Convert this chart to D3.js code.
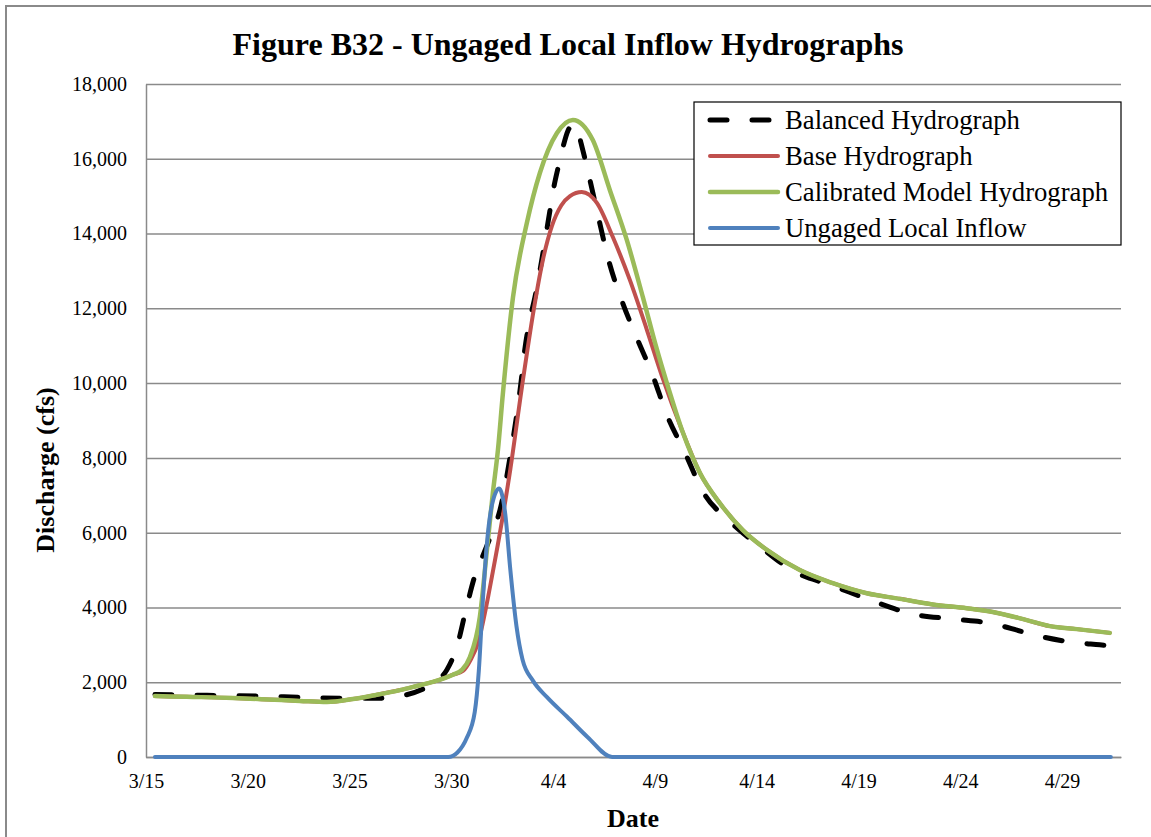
<!DOCTYPE html>
<meta charset="utf-8">
<script src="https://d3js.org/d3.v7.min.js"></script>
<style>
  body { margin: 0; background: #fff; }
  text { font-family: "Liberation Serif", "Times New Roman", serif; }
</style>
<div id="chart"></div>
<script>

// days after 3/15, discharge in cfs
var balanced = [[0.44,1670],[3,1650],[5.5,1630],[8,1590],[10,1570],[11.5,1570],[12.5,1630],[13.5,1790],
  [14.1,1980],[14.78,2330],[15.3,3000],[15.7,3900],[16.16,4850],[16.6,5450],[17.0,6000],[17.39,6600],
  [17.88,8000],[18.42,10000],[18.61,10900],[18.86,11700],[19.11,12300],[19.35,13000],[19.6,13800],
  [19.84,14600],[20.04,15250],[20.24,15750],[20.48,16300],[20.73,16750],[21.02,16920],[21.17,16800],
  [21.46,16230],[21.81,15430],[22.2,14500],[22.74,13260],[23.38,12200],[24.12,11200],[24.9,10200],
  [25.59,9150],[26.47,8150],[27.36,7100],[28.68,6300],[30.16,5630],[31.88,4950],[33.74,4580],
  [35.66,4180],[37.62,3830],[39.64,3690],[41.45,3580],[43.07,3350],[44.06,3210],[45.53,3070],
  [46.86,3000],[47.8,2950]];

var base = [[0.44,1630],[2,1610],[4.27,1580],[6,1540],[7.56,1500],[8.89,1470],[10.17,1550],[11.3,1660],
  [12.48,1790],[13.3,1900],[14.1,2010],[15.08,2200],[15.57,2300],[15.95,2600],[16.31,3050],[16.75,4120],
  [16.99,4810],[17.39,6000],[17.9,7700],[18.47,9900],[19.06,12000],[19.5,13300],[19.94,14200],
  [20.4,14750],[20.83,15000],[21.41,15110],[22.15,14820],[22.94,13900],[23.77,12760],[24.61,11420],
  [25.34,10200],[26.38,8670],[27.21,7600],[28.19,6790],[29.32,6070],[30.5,5540],[32.12,5000],[33.74,4650],
  [35.41,4380],[37.03,4230],[38.65,4080],[40.32,3980],[41.6,3880],[43.27,3660],[44.4,3500],
  [45.73,3420],[47.35,3320]];

var calibrated = [[0.44,1630],[2,1610],[4.27,1580],[6,1540],[7.56,1500],[8.89,1470],[10.17,1550],[11.3,1660],
  [12.48,1790],[13.3,1900],[14.1,2010],[15.08,2200],[15.52,2330],[15.91,2670],[16.4,3740],[16.75,5540],
  [17.04,7060],[17.29,8210],[17.53,9700],[18.03,12300],[18.71,14280],[19.35,15620],[20.19,16690],
  [20.97,17040],[21.95,16500],[22.79,15160],[23.62,13830],[24.41,12300],[25.1,10900],[25.59,10000],
  [26.38,8670],[27.21,7600],[28.19,6790],[29.32,6070],[30.5,5540],[32.12,5000],[33.74,4650],
  [35.41,4380],[37.03,4230],[38.65,4080],[40.32,3980],[41.6,3880],[43.27,3660],[44.4,3500],
  [45.73,3420],[47.35,3320]];

var ungaged = [[0.44,0],[14.85,0],[15.3,120],[15.75,500],[16.15,1200],[16.35,2300],[16.55,4200],
  [16.8,6000],[17.0,6750],[17.35,7180],[17.65,6500],[17.9,5000],[18.2,3500],[18.5,2600],[19.0,2050],
  [19.7,1600],[20.7,1070],[21.7,530],[22.9,0],[47.4,0]];

var xTickDays = [0, 5, 10, 15, 20, 25, 30, 35, 40, 45];
var xTickLabels = ["3/15","3/20","3/25","3/30","4/4","4/9","4/14","4/19","4/24","4/29"];
var yTicks = [0, 2000, 4000, 6000, 8000, 10000, 12000, 14000, 16000, 18000];

var series = [
  {name: "Balanced Hydrograph", data: balanced, color: "#000000", width: 5, dash: "17,25"},
  {name: "Base Hydrograph", data: base, color: "#C0504D", width: 4, dash: null},
  {name: "Calibrated Model Hydrograph", data: calibrated, color: "#9BBB59", width: 4.5, dash: null},
  {name: "Ungaged Local Inflow", data: ungaged, color: "#4F81BD", width: 4, dash: null}
];

var margin = {top: 84, right: 30, bottom: 80, left: 146},
    width = 1121 - margin.left,
    height = 757 - margin.top;

var svg = d3.select("#chart")
  .append("svg")
    .attr("width", 1151)
    .attr("height", 837);

// outer chart border
svg.append("rect")
  .attr("x", 6).attr("y", 6)
  .attr("width", 1160).attr("height", 850)
  .attr("fill", "none")
  .attr("stroke", "#8a8a8a")
  .attr("stroke-width", 2);

var g = svg.append("g")
  .attr("transform", "translate(" + margin.left + "," + margin.top + ")");

var x = d3.scaleLinear()
  .domain([0, 47.9])
  .range([0, width]);

var y = d3.scaleLinear()
  .domain([0, 18000])
  .range([height, 0]);

// y axis with gridlines
var yAxis = g.append("g")
  .call(d3.axisLeft(y).tickValues(yTicks).tickFormat(d3.format(","))
    .tickSizeInner(-width).tickSizeOuter(0).tickPadding(19));
yAxis.selectAll(".tick line").attr("stroke", "#8a8a8a").attr("stroke-width", 1.5);
yAxis.select(".domain").attr("stroke", "#8a8a8a").attr("stroke-width", 1.5);
yAxis.selectAll("text").attr("font-size", 20).attr("fill", "#000")
  .style("font-family", "'Liberation Serif', 'Times New Roman', serif");

// x axis
var xAxis = g.append("g")
  .attr("transform", "translate(0," + height + ")")
  .call(d3.axisBottom(x).tickValues(xTickDays)
    .tickFormat(function(d, i) { return xTickLabels[i]; })
    .tickSize(0));
xAxis.select(".domain").attr("stroke", "#8a8a8a").attr("stroke-width", 1.5);
xAxis.selectAll("text").attr("font-size", 20).attr("fill", "#000")
  .attr("y", 31).attr("dy", 0)
  .style("font-family", "'Liberation Serif', 'Times New Roman', serif");

var line = d3.line()
  .x(function(d) { return x(d[0]); })
  .y(function(d) { return y(d[1]); })
  .curve(d3.curveMonotoneX);

g.selectAll(".series")
  .data(series)
  .enter().append("path")
    .attr("class", "series")
    .attr("d", function(d) { return line(d.data); })
    .attr("fill", "none")
    .attr("stroke", function(d) { return d.color; })
    .attr("stroke-width", function(d) { return d.width; })
    .attr("stroke-dasharray", function(d) { return d.dash; })
    .attr("stroke-linecap", "round")
    .attr("stroke-linejoin", "round");

// titles
svg.append("text")
  .attr("x", 568).attr("y", 55)
  .attr("text-anchor", "middle")
  .attr("font-size", 32).attr("font-weight", "bold")
  .text("Figure B32 - Ungaged Local Inflow Hydrographs");

svg.append("text")
  .attr("x", 633).attr("y", 827)
  .attr("text-anchor", "middle")
  .attr("font-size", 26).attr("font-weight", "bold")
  .text("Date");

svg.append("text")
  .attr("transform", "translate(54,470) rotate(-90)")
  .attr("text-anchor", "middle")
  .attr("font-size", 26).attr("font-weight", "bold")
  .text("Discharge (cfs)");

// legend
var legend = svg.append("g");
legend.append("rect")
  .attr("x", 694).attr("y", 102)
  .attr("width", 427).attr("height", 143)
  .attr("fill", "#fff")
  .attr("stroke", "#000")
  .attr("stroke-width", 1.2);

var item = legend.selectAll(".item")
  .data(series)
  .enter().append("g")
    .attr("transform", function(d, i) { return "translate(0," + (120 + i * 36) + ")"; });

item.append("line")
  .attr("x1", 710).attr("x2", 778)
  .attr("stroke", function(d) { return d.color; })
  .attr("stroke-width", function(d) { return d.width; })
  .attr("stroke-dasharray", function(d) { return d.dash; })
  .attr("stroke-linecap", "round");

item.append("text")
  .attr("x", 785).attr("dy", "0.33em")
  .attr("font-size", 26.7)
  .text(function(d) { return d.name; });

</script>
